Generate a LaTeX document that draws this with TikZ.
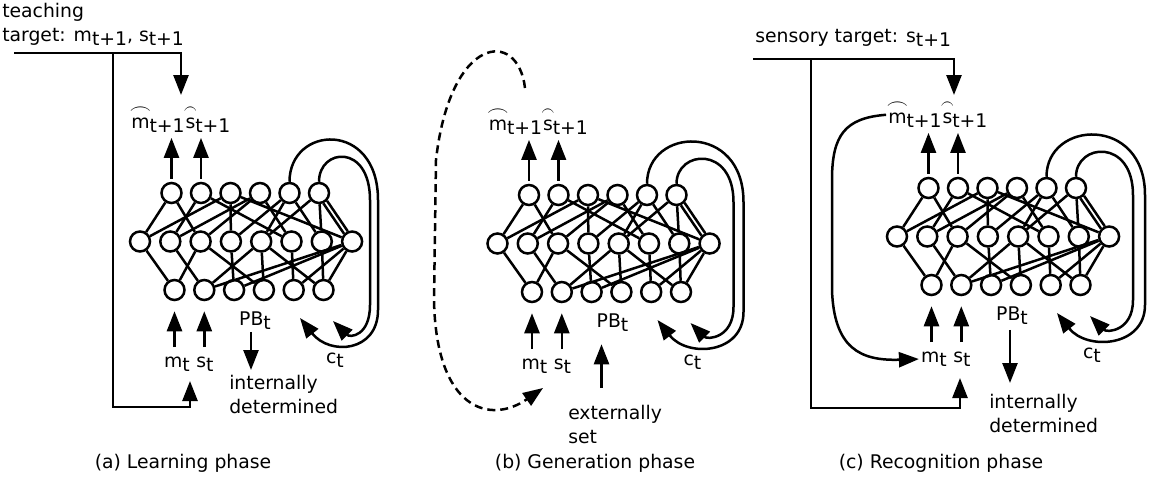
\documentclass[tikz,border=0pt]{standalone}
\usepackage{amsmath}
\usepackage{graphicx}
\usepackage{fontspec}
\setmainfont{DejaVu Sans}
\usepackage{tikz}
\usetikzlibrary{arrows.meta,positioning}
\newlength{\arcwd}
\newcommand{\lowsub}[1]{\raisebox{-0.45ex}{#1}}
\newcommand{\arcover}[1]{\setbox0\hbox{#1}\setlength{\arcwd}{\wd0}\addtolength{\arcwd}{1.6pt}%
  \makebox[0pt][l]{\hspace*{-0.8pt}\raisebox{1.45ex}{\resizebox{\arcwd}{0.6ex}{$\frown$}}}\box0}

\begin{document}
\begin{tikzpicture}[x=0.5pt,y=-0.5pt,line width=1.25pt,
  unit/.style={circle,draw,minimum size=10pt,inner sep=0pt},
  lbl/.style={inner sep=0.5pt,font=\fontsize{9.4}{11.8}\selectfont},
  arr/.style={-{Triangle[length=10pt,width=7.5pt]}}]
\useasboundingbox (0,0) rectangle (1153,494);

\foreach \p/\dx/\dy/\ri/\ro in {a/0/0/370/378,b/357.5/2/376/386,c/757/-5/376/388}{
  \begin{scope}[shift={(\dx,\dy)}]
    \foreach \i in {1,...,6}
      \node[unit] (\p-t\i) at ({171.5+29.5*(\i-1)},193) {};
    \foreach \j in {1,...,8}
      \node[unit] (\p-m\j) at ({140+30.3*(\j-1)},241.5) {};
    \foreach \k in {1,...,6}
      \node[unit] (\p-b\k) at ({174.5+29.8*(\k-1)},290) {};
    \foreach \i/\j in {1/1,1/3,2/2,2/6,3/1,3/4,3/8,4/2,4/3,4/6,5/4,5/5,5/7,6/5,6/7}
      \draw (\p-t\i) -- (\p-m\j);
    \draw (\p-t6.-44) -- (\p-m8.113);
    \draw (\p-t6.-67) -- (\p-m8.136);
    \foreach \j/\k in {1/1,2/2,3/1,3/4,4/3,5/2,5/4,5/6,6/5,7/6,8/2,8/3,8/5,8/6}
      \draw (\p-m\j) -- (\p-b\k);

    \node[lbl,anchor=base] (\p-mh) at (158,128) {\arcover{m}\lowsub{t+1}};
    \node[lbl,anchor=base] (\p-sh) at (208,128) {\arcover{s}\lowsub{t+1}};
    \draw[arr,shorten <=1.5pt,shorten >=1.5pt] (\p-t1.north) -- (\p-t1.north |- \p-mh.south);
    \draw[arr,shorten <=1.5pt,shorten >=1.5pt] (\p-t2.north) -- (\p-t2.north |- \p-sh.south);

    \node[lbl,anchor=base] (\p-mt) at (177,367) {m\lowsub{t}};
    \node[lbl,anchor=base] (\p-st) at (205,367) {s\lowsub{t}};
    \draw[arr,shorten <=3.5pt,shorten >=5pt] (\p-b1 |- \p-mt.north) -- (\p-b1.south);
    \draw[arr,shorten <=3.5pt,shorten >=5pt] (\p-b2 |- \p-st.north) -- (\p-b2.south);

    \node[lbl,anchor=base] (\p-pb) at (255,325) {PB\lowsub{t}};
    \node[lbl,anchor=base] (\p-ct) at (335,363) {c\lowsub{t}};
    \coordinate (\p-ret1) at (300,318);
    \coordinate (\p-ret2) at (333,321);
    \draw[arr] (\p-t5.north) .. controls (289.5,125) and (\ro,120) .. (\ro,200)
      -- (\ro,310) .. controls (\ro,352) and (330,356) .. (\p-ret1);
    \draw[arr] (\p-t6.north) .. controls (319,148) and (\ri,143) .. (\ri,200)
      -- (\ri,305) .. controls (\ri,336) and (350,338) .. (\p-ret2);
  \end{scope}
}

\node[lbl,anchor=north west,align=left] (teach) at (0,1) {teaching\\target: m\lowsub{t+1}, s\lowsub{t+1}};
\coordinate (a-in) at (14,53);
\coordinate (a-fork) at (113,53);
\coordinate (a-down) at (181,95);
\coordinate (a-corner) at (113,407);
\coordinate (a-up) at (190,381);
\draw[arr] (a-in) -| (a-down);
\draw[arr] (a-fork) -- (a-corner) -| (a-up);
\node[lbl,anchor=north west,align=left] (a-int) at (227,373) {internally\\determined};
\draw[arr,shorten >=1.5pt] ([xshift=-2pt]a-pb.south) -- ([xshift=-2pt]a-pb.south |- a-int.north);

\coordinate (b-top) at (525,88);
\coordinate (b-back) at (543,388);
\draw[arr,dash pattern=on 4pt off 2.5pt] (b-top) .. controls (518,28) and (450,35) .. (436,160)
  -- (434,300) .. controls (436,410) and (490,425) .. (b-back);
\node[lbl,anchor=north west,align=left] (b-ext) at (566,403) {externally\\set};
\draw[arr,shorten <=7.5pt,shorten >=5.2pt] ([xshift=-5.5pt]b-pb.south |- b-ext.north) -- ([xshift=-5.5pt]b-pb.south);

\node[lbl,anchor=base west] (sens) at (753,42) {sensory target: s\lowsub{t+1}};
\coordinate (c-in) at (753,59);
\coordinate (c-fork) at (811,59);
\coordinate (c-down) at (954,95);
\coordinate (c-corner) at (811,408);
\coordinate (c-up) at (960,378);
\draw[arr] (c-in) -| (c-down);
\draw[arr] (c-fork) -- (c-corner) -| (c-up);
\draw[arr] (c-mh.west) .. controls (845,118) and (832,135) .. (832,180)
  -- (832,290) .. controls (834,348) and (860,361) .. (c-mt.west);
\node[lbl,anchor=north west,align=left] (c-int) at (987,392) {internally\\determined};
\draw[arr,shorten <=1.5pt,shorten >=4.5pt] ([xshift=-1pt]c-pb.south) -- ([xshift=-1pt]c-pb.south |- c-int.north);

\node[lbl] (cap-a) at (183,463) {(a) Learning phase};
\node[lbl] (cap-b) at (595,463) {(b) Generation phase};
\node[lbl] (cap-c) at (941,463) {(c) Recognition phase};
\end{tikzpicture}
\end{document}
